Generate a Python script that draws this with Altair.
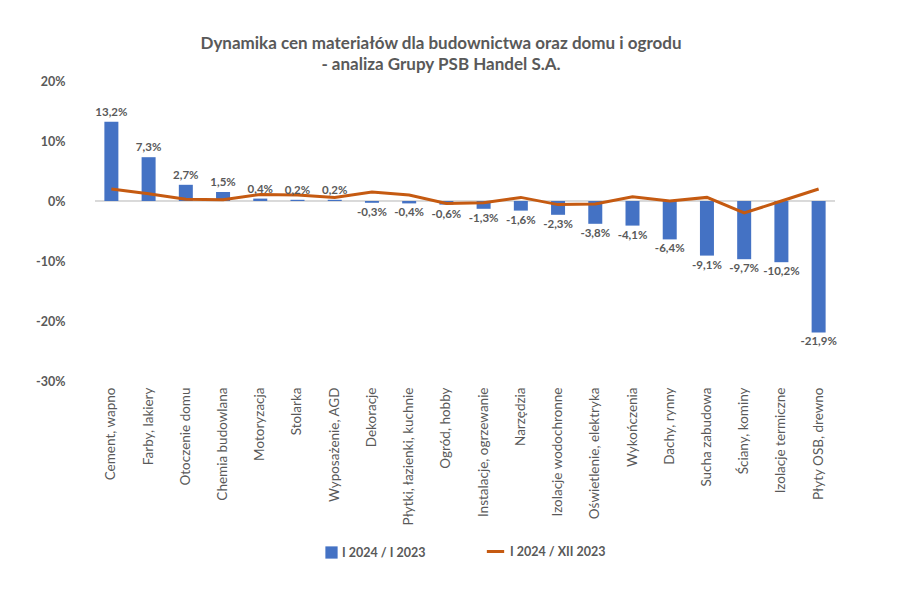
import altair as alt
import pandas as pd

categories = ["Cement, wapno", "Farby, lakiery", "Otoczenie domu", "Chemia budowlana",
              "Motoryzacja", "Stolarka", "Wyposażenie, AGD", "Dekoracje",
              "Płytki, łazienki, kuchnie", "Ogród, hobby", "Instalacje, ogrzewanie",
              "Narzędzia", "Izolacje wodochronne", "Oświetlenie, elektryka",
              "Wykończenia", "Dachy, rynny", "Sucha zabudowa", "Ściany, kominy",
              "Izolacje termiczne", "Płyty OSB, drewno"]
yoy = [13.2, 7.3, 2.7, 1.5, 0.4, 0.2, 0.2, -0.3, -0.4, -0.6, -1.3, -1.6, -2.3,
       -3.8, -4.1, -6.4, -9.1, -9.7, -10.2, -21.9]
mom = [2.0, 1.2, 0.3, 0.2, 1.1, 1.0, 0.6, 1.5, 1.0, -0.4, -0.3, 0.6, -0.6,
       -0.5, 0.7, 0.0, 0.6, -2.0, 0.0, 2.0]
y_ticks = [20, 10, 0, -10, -20, -30]

bar_name = "I 2024 / I 2023"
line_name = "I 2024 / XII 2023"

df = pd.DataFrame({"cat": categories, "yoy": yoy, "mom": mom})
df["label"] = [f"{v:.1f}%".replace(".", ",") for v in yoy]
df["bar_s"] = bar_name
df["line_s"] = line_name

FONT = "Lato"
GRAY = "#595959"

x = alt.X("cat:N", sort=categories, title=None,
          axis=alt.Axis(labelAngle=-90, labelFontSize=13.5, labelColor=GRAY, labelFont=FONT,
                        domain=False, ticks=False, labelPadding=6, labelAlign="right",
                        labelBaseline="middle", grid=False),
          scale=alt.Scale(paddingInner=0.62, paddingOuter=0.25))
y_scale = alt.Scale(domain=[-30, 20], nice=False)

base = alt.Chart(df)

bars = base.mark_bar(size=14).encode(
    x=x,
    y=alt.Y("yoy:Q", scale=y_scale, title=None,
            axis=alt.Axis(values=y_ticks, labelExpr="datum.value + '%'", grid=False,
                          domain=False, ticks=False, labelFontSize=12.5, labelFontWeight="bold",
                          labelColor=GRAY, labelFont=FONT, labelPadding=30)),
    fill=alt.Fill("bar_s:N", scale=alt.Scale(domain=[bar_name], range=["#4472C4"]),
                  legend=alt.Legend(title=None, orient="none", legendX=230, legendY=465,
                                    symbolType="square", symbolSize=150, labelFontSize=12.5,
                                    labelColor=GRAY, labelFont=FONT, labelFontWeight="bold",
                                    symbolStrokeWidth=0)),
)

zero = base.mark_rule(color="#d9d9d9", strokeWidth=1).encode(y=alt.datum(0))

line = base.mark_line(strokeWidth=3).encode(
    x=x,
    y=alt.Y("mom:Q", scale=y_scale),
    stroke=alt.Stroke("line_s:N", scale=alt.Scale(domain=[line_name], range=["#C55A11"]),
                      legend=alt.Legend(title=None, orient="none", legendX=390, legendY=460,
                                        symbolType="stroke", symbolStrokeWidth=3, symbolSize=300,
                                        labelFontSize=12.5, labelColor=GRAY, labelFont=FONT,
                                        labelFontWeight="bold")),
)

pos_labels = base.transform_filter("datum.yoy >= 0").mark_text(
    dy=-9, fontSize=11.5, fontWeight="bold", color=GRAY, font=FONT
).encode(x=x, y=alt.Y("yoy:Q", scale=y_scale), text="label:N")

neg_labels = base.transform_filter("datum.yoy < 0").mark_text(
    dy=10, fontSize=11.5, fontWeight="bold", color=GRAY, font=FONT
).encode(x=x, y=alt.Y("yoy:Q", scale=y_scale), text="label:N")

chart = alt.layer(zero, bars, line, pos_labels, neg_labels).properties(
    width=740, height=300,
    background="white",
    title=alt.TitleParams(
        ["Dynamika cen materiałów dla budownictwa oraz domu i ogrodu",
         "- analiza Grupy PSB Handel S.A."],
        fontSize=17, fontWeight="bold", color=GRAY, font=FONT, anchor="middle",
        offset=1, lineHeight=21, dx=-24),
    autosize=alt.AutoSizeParams(type="none"),
    padding={"left": 87, "top": 73, "right": 60, "bottom": 200},
).configure_view(stroke=None).configure_axis(domain=False, grid=False, ticks=False)

chart.save("out.html", embed_options={"renderer": "svg", "actions": False})
